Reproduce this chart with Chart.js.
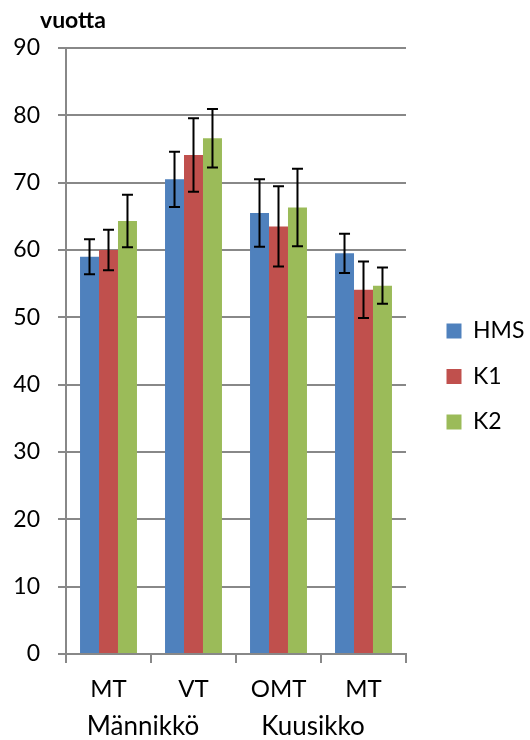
<!DOCTYPE html>
<html>
<head>
<meta charset="utf-8">
<script src="https://cdn.jsdelivr.net/npm/chart.js@4"></script>
<style>
  body { margin: 0; background: #fff; }
  canvas { display: block; }
</style>
</head>
<body>
<canvas id="chart" width="530" height="740"></canvas>
<script>
const categories = ['MT', 'VT', 'OMT', 'MT'];
const groups = ['Männikkö', 'Kuusikko'];
const yTicks = [0, 10, 20, 30, 40, 50, 60, 70, 80, 90];

const hms = [59.0, 70.5, 65.5, 59.5];
const k1 = [60.0, 74.1, 63.5, 54.1];
const k2 = [64.3, 76.6, 66.3, 54.7];

// error bar half-lengths
const hmsErr = [2.6, 4.1, 5.0, 2.9];
const k1Err = [3.0, 5.45, 5.95, 4.2];
const k2Err = [3.9, 4.35, 5.75, 2.7];

const font = 'Lato, "Open Sans", sans-serif';
const gridColor = '#888888';

const errorBars = {
  id: 'errorBars',
  afterDatasetsDraw(chart) {
    const ctx = chart.ctx;
    const y = chart.scales.y;
    ctx.save();
    ctx.strokeStyle = '#000';
    ctx.lineWidth = 2;
    chart.data.datasets.forEach((ds, i) => {
      const meta = chart.getDatasetMeta(i);
      meta.data.forEach((bar, j) => {
        const top = y.getPixelForValue(ds.data[j] + ds.err[j]);
        const bot = y.getPixelForValue(ds.data[j] - ds.err[j]);
        ctx.beginPath();
        ctx.moveTo(bar.x, top); ctx.lineTo(bar.x, bot);
        ctx.moveTo(bar.x - 5.5, top); ctx.lineTo(bar.x + 5.5, top);
        ctx.moveTo(bar.x - 5.5, bot); ctx.lineTo(bar.x + 5.5, bot);
        ctx.stroke();
      });
    });
    ctx.restore();
  },
  afterDraw(chart) {
    const ctx = chart.ctx;
    const x = chart.scales.x;
    ctx.save();
    ctx.fillStyle = '#000';
    ctx.textBaseline = 'middle';
    // unit label above the y axis
    ctx.font = 'bold 23px ' + font;
    ctx.textAlign = 'left';
    ctx.fillText('vuotta', 40, 21);
    // group labels under each pair of categories
    ctx.font = '26px ' + font;
    ctx.textAlign = 'center';
    groups.forEach((g, i) => {
      const mid = (x.getPixelForTick(i * 2) + x.getPixelForTick(i * 2 + 1)) / 2;
      ctx.fillText(g, mid - 8, 727);
    });
    ctx.restore();
  }
};

const legendBox = {
  id: 'legendBox',
  beforeInit(chart) {
    const fit = chart.legend.fit;
    chart.legend.fit = function () {
      fit.bind(chart.legend)();
      this.width = 124;
    };
  },
  afterLayout(chart) {
    const lg = chart.legend;
    lg.left += 18; lg.right += 18;
    lg.top -= 5; lg.bottom -= 5;
  }
};

new Chart(document.getElementById('chart'), {
  type: 'bar',
  data: {
    labels: categories,
    datasets: [
      { label: 'HMS', data: hms, err: hmsErr, backgroundColor: '#4F81BD' },
      { label: 'K1', data: k1, err: k1Err, backgroundColor: '#C0504D' },
      { label: 'K2', data: k2, err: k2Err, backgroundColor: '#9BBB59' }
    ]
  },
  options: {
    responsive: false,
    animation: false,
    layout: { padding: { top: 48, left: 0, right: 0, bottom: 25 } },
    datasets: { bar: { barPercentage: 1, categoryPercentage: 0.67 } },
    plugins: {
      legend: {
        position: 'right',
        labels: {
          boxWidth: 15, boxHeight: 15, padding: 22.5,
          color: '#000', font: { family: font, size: 23 }
        }
      },
      tooltip: { enabled: false }
    },
    scales: {
      x: {
        grid: { display: true, drawOnChartArea: false, drawTicks: true, tickLength: 9, offset: true, color: gridColor, lineWidth: 2 },
        border: { color: gridColor, width: 2 },
        ticks: { color: '#000', padding: 14, font: { family: font, size: 24, lineHeight: 1 } }
      },
      y: {
        min: 0, max: 90,
        afterBuildTicks(axis) { axis.ticks = yTicks.map(v => ({ value: v })); },
        afterFit(axis) { axis.width = 66; },
        grid: { color: gridColor, lineWidth: 2, tickLength: 8 },
        border: { color: gridColor, width: 2 },
        ticks: { color: '#000', padding: 18, font: { family: font, size: 23 } }
      }
    }
  },
  plugins: [errorBars, legendBox]
});
</script>
</body>
</html>
